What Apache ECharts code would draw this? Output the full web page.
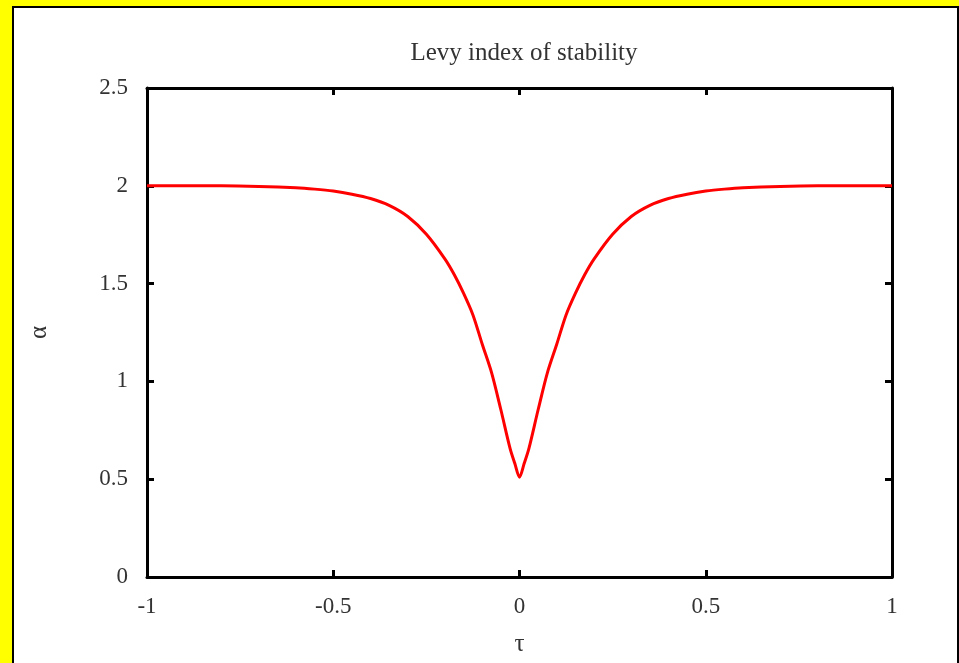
<!DOCTYPE html>
<html>
<head>
<meta charset="utf-8">
<script src="https://cdn.jsdelivr.net/npm/echarts@6/dist/echarts.min.js"></script>
<style>
  html, body { margin: 0; padding: 0; width: 959px; height: 663px; background: #ffff00; overflow: hidden; }
  #panel { position: absolute; left: 12px; top: 6px; width: 943px; height: 660px; background: #fff;
           border-left: 2px solid #000; border-top: 2px solid #000; border-right: 2px solid #000; }
  #chart { position: absolute; left: 0; top: 0; width: 959px; height: 663px; }
</style>
</head>
<body>
<div id="panel"></div>
<div id="chart"></div>
<script>
const titleText = 'Levy index of stability';
const xName = 'τ';
const yName = 'α';
const xTicks = [-1, -0.5, 0, 0.5, 1];
const yTicks = [0, 0.5, 1, 1.5, 2, 2.5];

const tau = [-1, -0.9, -0.8, -0.7, -0.6, -0.55, -0.5, -0.45, -0.4, -0.35, -0.3, -0.25, -0.2, -0.175, -0.15, -0.125, -0.1, -0.075, -0.05, -0.025, -0.0125, 0,
             0.0125, 0.025, 0.05, 0.075, 0.1, 0.125, 0.15, 0.175, 0.2, 0.25, 0.3, 0.35, 0.4, 0.45, 0.5, 0.55, 0.6, 0.7, 0.8, 0.9, 1];
const alpha = [2.0, 2.0, 2.0, 1.997, 1.99, 1.983, 1.973, 1.957, 1.935, 1.90, 1.843, 1.752, 1.625, 1.545, 1.45, 1.34, 1.19, 1.045, 0.855, 0.655, 0.58, 0.51,
               0.58, 0.655, 0.855, 1.045, 1.19, 1.34, 1.45, 1.545, 1.625, 1.752, 1.843, 1.90, 1.935, 1.957, 1.973, 1.983, 1.99, 1.997, 2.0, 2.0, 2.0];

const font = 'Liberation Serif';
const chart = echarts.init(document.getElementById('chart'), null, { renderer: 'canvas' });

const axisLineStyle = { show: true, onZero: false, lineStyle: { color: '#000', width: 3 } };
const tickStyle = { show: true, inside: true, length: 7, lineStyle: { color: '#000', width: 3 } };
const labelStyle = { fontFamily: font, fontSize: 23, color: '#333' };

chart.setOption({
  animation: false,
  backgroundColor: 'transparent',
  title: {
    text: titleText, left: 519, top: 36, textAlign: 'center',
    textStyle: { fontFamily: font, fontSize: 25, fontWeight: 'normal', color: '#333' }
  },
  grid: { left: 147, right: 67, top: 88, bottom: 86, containLabel: false },
  xAxis: [
    { type: 'value', position: 'bottom', min: -1, max: 1, interval: 0.5,
      name: xName, nameLocation: 'middle', nameGap: 55,
      nameTextStyle: { fontFamily: font, fontSize: 25, color: '#333' },
      axisLine: axisLineStyle, axisTick: tickStyle, splitLine: { show: false },
      axisLabel: Object.assign({ margin: 18, formatter: v => String(v) }, labelStyle) },
    { type: 'value', position: 'top', min: -1, max: 1, interval: 0.5,
      axisLine: axisLineStyle, axisTick: tickStyle, splitLine: { show: false },
      axisLabel: { show: false } }
  ],
  yAxis: [
    { type: 'value', position: 'left', min: 0, max: 2.5, interval: 0.5,
      name: yName, nameLocation: 'middle', nameGap: 95, nameRotate: 90,
      nameTextStyle: { fontFamily: font, fontSize: 25, color: '#333' },
      axisLine: axisLineStyle, axisTick: tickStyle, splitLine: { show: false },
      axisLabel: Object.assign({ margin: 19, formatter: v => String(v) }, labelStyle) },
    { type: 'value', position: 'right', min: 0, max: 2.5, interval: 0.5,
      axisLine: axisLineStyle, axisTick: tickStyle, splitLine: { show: false },
      axisLabel: { show: false } }
  ],
  series: [{
    type: 'line',
    data: tau.map((t, i) => [t, alpha[i]]),
    showSymbol: false,
    smooth: 0.3,
    lineStyle: { color: '#ff0000', width: 3 },
    clip: true
  }]
});
</script>
</body>
</html>
